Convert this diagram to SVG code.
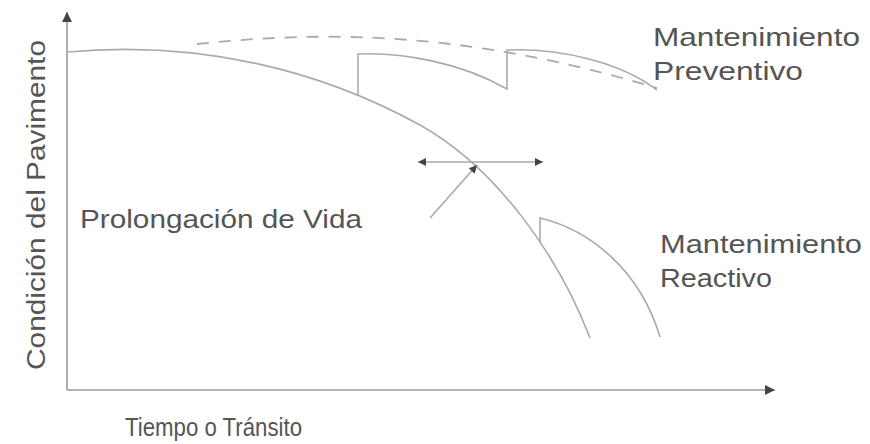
<svg xmlns="http://www.w3.org/2000/svg" width="870" height="444" viewBox="0 0 870 444">
<defs>
<style>
.ln{fill:none;stroke:#aaaaaa;stroke-width:1.6}
.ax{fill:none;stroke:#9a9a9a;stroke-width:1.6}
.dash{fill:none;stroke:#aaaaaa;stroke-width:1.8;stroke-dasharray:12 10}
.t{font-family:"Liberation Sans",Arial,sans-serif;font-size:26px;fill:#555}
</style>
<marker id="ah" viewBox="0 0 10 10" refX="10" refY="5" markerWidth="11" markerHeight="10" markerUnits="userSpaceOnUse" orient="auto-start-reverse">
<path d="M0,0 L10,5 L0,10 Z" fill="#444"/>
</marker>
<marker id="ahs" viewBox="0 0 10 10" refX="10" refY="5" markerWidth="10" markerHeight="8" markerUnits="userSpaceOnUse" orient="auto-start-reverse">
<path d="M0,0 L10,5 L0,10 Z" fill="#444"/>
</marker>
</defs>
<rect width="870" height="444" fill="#fff"/>
<g id="axes">
<path class="ax" d="M67,390 V12" marker-end="url(#ah)"/>
<path class="ax" d="M67,390 H775" marker-end="url(#ah)"/>
</g>
<g id="connectors">
<path id="main-curve" class="ln" d="M67,52 C200,40 320,70 420,125 C500,170 560,260 590,338"/>
<path id="preventive" class="ln" d="M358,95 V54 C400,52 460,62 507,89 V50 C560,48 620,62 657,90"/>
<path id="dashed" class="dash" d="M197,44 C330,30 470,32 657,88"/>
<path id="reactive" class="ln" d="M540,243 V218 C590,230 640,270 660,337"/>
<path id="double-arrow" class="ln" d="M418,162 H543" marker-start="url(#ahs)" marker-end="url(#ahs)"/>
<path id="pointer" class="ln" d="M430,218 L477,165" marker-end="url(#ahs)"/>
</g>
<g id="label-preventivo">
<text class="t" x="653" y="46" textLength="207" lengthAdjust="spacingAndGlyphs">Mantenimiento</text>
<text class="t" x="653" y="80" textLength="150" lengthAdjust="spacingAndGlyphs">Preventivo</text>
</g>
<g id="label-reactivo">
<text class="t" x="660" y="253" textLength="202" lengthAdjust="spacingAndGlyphs">Mantenimiento</text>
<text class="t" x="660" y="287" textLength="112" lengthAdjust="spacingAndGlyphs">Reactivo</text>
</g>
<g id="label-prolongacion">
<text class="t" x="80" y="228" textLength="282" lengthAdjust="spacingAndGlyphs">Prolongación de Vida</text>
</g>
<g id="label-x">
<text class="t" x="125" y="436" textLength="177" lengthAdjust="spacingAndGlyphs">Tiempo o Tránsito</text>
</g>
<g id="label-y">
<text class="t" transform="translate(45,205) rotate(-90)" text-anchor="middle" textLength="330" lengthAdjust="spacingAndGlyphs">Condición del Pavimento</text>
</g>
</svg>
